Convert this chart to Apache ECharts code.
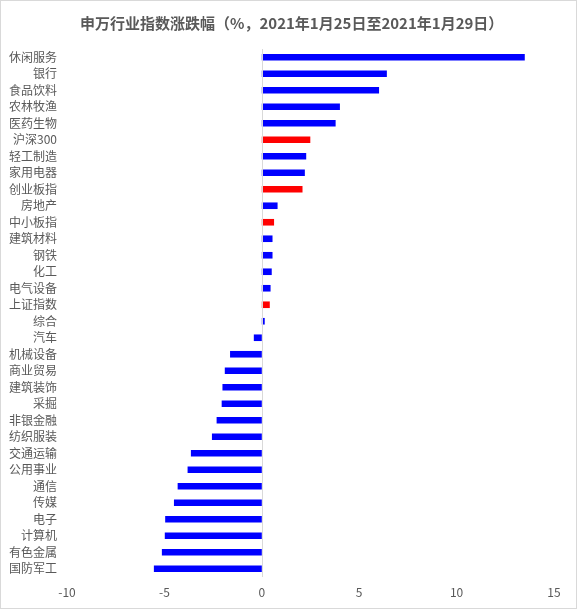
<!DOCTYPE html>
<html>
<head>
<meta charset="utf-8">
<script src="https://cdn.jsdelivr.net/npm/echarts@6/dist/echarts.min.js"></script>
<style>
html,body{margin:0;padding:0;background:#fff;}
#chart{width:577px;height:609px;box-sizing:border-box;border:1px solid #d9d9d9;}
</style>
</head>
<body>
<div id="chart"></div>
<script>
const titleText = '申万行业指数涨跌幅（%，2021年1月25日至2021年1月29日）';
const categories = ['休闲服务','银行','食品饮料','农林牧渔','医药生物','沪深300','轻工制造','家用电器','创业板指','房地产','中小板指','建筑材料','钢铁','化工','电气设备','上证指数','综合','汽车','机械设备','商业贸易','建筑装饰','采掘','非银金融','纺织服装','交通运输','公用事业','通信','传媒','电子','计算机','有色金属','国防军工'];
const values = [13.5,6.42,6.02,4.01,3.79,2.49,2.28,2.21,2.09,0.81,0.63,0.55,0.55,0.51,0.45,0.41,0.15,-0.41,-1.63,-1.90,-2.02,-2.06,-2.32,-2.56,-3.64,-3.81,-4.32,-4.51,-4.96,-4.98,-5.13,-5.54];
const indexNames = ['沪深300','创业板指','中小板指','上证指数'];
const xTicks = {min:-10, max:15, interval:5};

const chart = echarts.init(document.getElementById('chart'));
const font = '"Noto Sans CJK SC", "Microsoft YaHei", sans-serif';
chart.setOption({
  animation:false,
  title:{
    text:titleText, left:74, top:10,
    textStyle:{fontFamily:font, fontSize:15, fontWeight:'bold', color:'#595959'}
  },
  grid:{left:66, right:22, top:48, bottom:31, containLabel:false},
  xAxis:{
    type:'value', min:xTicks.min, max:xTicks.max, interval:xTicks.interval,
    axisLine:{show:false}, axisTick:{show:false}, splitLine:{show:false},
    axisLabel:{color:'#595959', fontFamily:font, fontSize:12, margin:9}
  },
  yAxis:{
    type:'category', data:categories, inverse:true,
    axisLine:{show:false, onZero:false}, axisTick:{show:false},
    axisLabel:{color:'#595959', fontFamily:font, fontSize:12, margin:10}
  },
  series:[{
    type:'bar', barWidth:'40%',
    data:values.map((v,i)=>({value:v, itemStyle:{color: indexNames.includes(categories[i]) ? '#FF0000' : '#0000FF'}})),
    markLine:{
      silent:true, symbol:'none', label:{show:false},
      lineStyle:{color:'#d9d9d9', type:'solid', width:1},
      data:[{xAxis:0}]
    }
  }]
});
</script>
</body>
</html>
